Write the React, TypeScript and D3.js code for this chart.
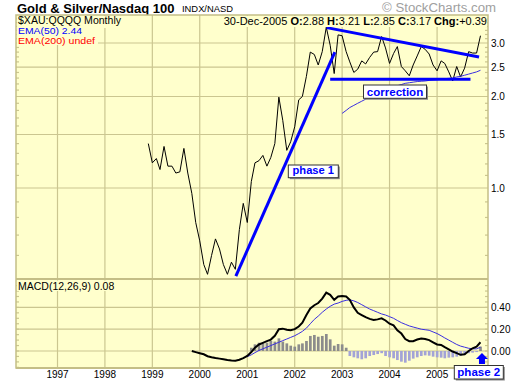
import React from 'react';
import * as d3 from 'd3';

// ---------------- data ----------------
const PRICE_START = '1998-12';
const priceValues = [
  1.40, 1.21, 1.25, 1.15, 1.37, 1.18, 1.18, 1.12, 1.13, 1.35,
  1.12, 0.96, 0.77, 0.67, 0.56, 0.52, 0.60, 0.68, 0.63, 0.56,
  0.52, 0.57, 0.54, 0.73, 0.89, 0.77, 1.05, 1.21, 1.23, 1.28,
  1.18, 1.26, 1.40, 1.99, 1.67, 1.33, 1.42, 1.59, 1.95, 2.00,
  2.33, 2.80, 2.75, 2.54, 2.81, 3.38, 2.95, 2.38, 3.19, 3.17,
  2.81, 2.60, 2.40, 2.46, 2.62, 2.56, 2.69, 2.80, 2.81, 3.15,
  2.89, 2.57, 2.77, 2.92, 2.51, 2.43, 2.34, 2.54, 2.72, 2.92,
  2.86, 2.76, 2.54, 2.43, 2.62, 2.57, 2.41, 2.25, 2.51, 2.32,
  2.48, 2.81, 2.78, 2.78, 3.17,
];

const EMA50_START = '2003-01';
const ema50Values = [
  1.76, 1.80, 1.84, 1.87, 1.90, 1.93, 1.96, 1.99, 2.02, 2.05,
  2.08, 2.11, 2.13, 2.15, 2.17, 2.19, 2.21, 2.22, 2.23, 2.24,
  2.245, 2.25, 2.26, 2.265, 2.27, 2.28, 2.29, 2.295, 2.30, 2.32,
  2.33, 2.35, 2.37, 2.39, 2.41, 2.44,
];

const MACD_START = '1999-11';
const macdValues = [
  0.00, -0.01, -0.02, -0.03, -0.048, -0.058, -0.065, -0.07, -0.075, -0.082,
  -0.087, -0.09, -0.08, -0.065, -0.045, -0.01, 0.03, 0.06, 0.075, 0.09,
  0.105, 0.14, 0.20, 0.205, 0.195, 0.19, 0.20, 0.225, 0.26, 0.33,
  0.39, 0.42, 0.44, 0.48, 0.535, 0.515, 0.47, 0.50, 0.505, 0.50,
  0.47, 0.40, 0.35, 0.33, 0.31, 0.295, 0.285, 0.29, 0.30, 0.28,
  0.25, 0.235, 0.19, 0.16, 0.11, 0.09, 0.09, 0.105, 0.115, 0.11,
  0.10, 0.08, 0.06, 0.055, 0.035, 0.015, -0.005, -0.02, -0.035, -0.03,
  0.00, 0.025, 0.04, 0.08,
];

const SIGNAL_START = '2001-01';
const signalValues = [
  -0.052, -0.035, -0.015, 0.005, 0.02, 0.035, 0.05, 0.065, 0.08, 0.095,
  0.11, 0.125, 0.14, 0.16, 0.18, 0.21, 0.25, 0.29, 0.32, 0.355,
  0.385, 0.41, 0.43, 0.44, 0.455, 0.465, 0.47, 0.46, 0.445, 0.425,
  0.405, 0.385, 0.37, 0.355, 0.34, 0.33, 0.315, 0.30, 0.28, 0.26,
  0.245, 0.23, 0.22, 0.21, 0.20, 0.195, 0.19, 0.175, 0.16, 0.14,
  0.12, 0.10, 0.08, 0.06, 0.045, 0.035, 0.025, 0.02, 0.02, 0.035,
];

const HIST_START = '2001-02';
const histValues = [
  0.03, 0.061, 0.076, 0.07, 0.076, 0.092, 0.086, 0.116, 0.086, 0.07,
  0.049, 0.04, 0.061, 0.07, 0.092, 0.138, 0.147, 0.131, 0.138, 0.156,
  0.107, 0.049, 0.064, 0.061, 0.03, -0.046, -0.058, -0.067, -0.076, -0.067,
  -0.046, -0.037, -0.028, -0.02, -0.046, -0.058, -0.067, -0.083, -0.098, -0.107,
  -0.089, -0.07, -0.058, -0.046, -0.04, -0.043, -0.052, -0.058, -0.061, -0.067,
  -0.061, -0.058, -0.052, -0.043, -0.034, -0.02, -0.015, -0.01, 0.04,
];

const yearTicks = [1997, 1998, 1999, 2000, 2001, 2002, 2003, 2004, 2005];
const priceTicks = [1.0, 1.5, 2.0, 2.5, 3.0];
const macdTicks = [0.0, 0.2, 0.4];

// annotation trend lines (date, value)
const phase1Line: [string, number][] = [['2000-10-05', 0.513], ['2002-11-06', 2.8]];
const topLine: [string, number][] = [['2002-09-04', 3.37], ['2005-11-20', 2.7]];
const supportLine: [string, number][] = [['2002-10-01', 2.28], ['2005-09-15', 2.28]];

// ---------------- helpers ----------------
const parseMonth = d3.timeParse('%Y-%m');
const parseDay = d3.timeParse('%Y-%m-%d');
function series(start: string, values: number[]) {
  const s = parseMonth(start) as Date;
  return values.map((v, i) => ({ date: d3.timeMonth.offset(s, i), v }));
}

const FONT = '"Liberation Sans", Arial, Helvetica, sans-serif';
const BG = '#ffffcc';
const GRID = '#cbc690';
const BORDER = '#c4be86';

export default function App() {
  const L = 16, R = 488, T = 15, MID = 279, B = 368;

  const x = d3.scaleTime()
    .domain([new Date(1997, 0, 1), new Date(2006, 0, 1)])
    .range([57.5, 484.5]);
  const yP = d3.scaleLog().domain([1, 3]).range([188, 43]);
  const yM = d3.scaleLinear().domain([0, 0.4]).range([351, 307.4]);

  const price = series(PRICE_START, priceValues);
  const ema = series(EMA50_START, ema50Values);
  const macd = series(MACD_START, macdValues);
  const signal = series(SIGNAL_START, signalValues);
  const hist = series(HIST_START, histValues);

  const lineP = d3.line<{ date: Date; v: number }>().x(d => x(d.date)).y(d => yP(d.v));
  const lineM = d3.line<{ date: Date; v: number }>().x(d => x(d.date)).y(d => yM(d.v));
  const annot = (pts: [string, number][]) =>
    d3.line<[string, number]>().x(d => x(parseDay(d[0]) as Date)).y(d => yP(d[1]))(pts) as string;

  const minorP = d3.range(6, 37).map(i => i / 10).filter(v => !priceTicks.some(t => Math.abs(t - v) < 1e-6));
  const minorM = d3.range(-3, 13).map(i => i * 0.05);

  const lastDate = price[price.length - 1].date;
  const ax = x(lastDate);

  const box = (cx: number, top: number, w: number, h: number, text: string, tl: number, base: number) => (
    <g>
      <rect x={cx - w / 2 + 1.5} y={top + 1.5} width={w} height={h} fill="#8a8a8a" />
      <rect x={cx - w / 2} y={top} width={w} height={h} fill="#ffffff" stroke="#333" strokeWidth={1} />
      <text x={cx} y={base} textAnchor="middle" fontFamily={FONT} fontWeight="bold" fontSize={11.5}
        fill="#0000ff" textLength={tl} lengthAdjust="spacingAndGlyphs">{text}</text>
    </g>
  );

  return (
    <svg width={520} height={384} style={{ position: 'absolute', left: 0, top: 0, background: '#fff' }}
      fontFamily={FONT}>
      <defs>
        <clipPath id="cpMain"><rect x={L} y={T} width={R - L} height={MID - T} /></clipPath>
        <clipPath id="cpMacd"><rect x={L} y={MID} width={R - L} height={B - MID} /></clipPath>
      </defs>

      {/* title */}
      <text x={17} y={13} fontSize={13} fontWeight="bold" fill="#000">Gold &amp; Silver/Nasdaq 100</text>
      <text x={182} y={12} fontSize={9} fill="#000" textLength={51} lengthAdjust="spacingAndGlyphs">INDX/NASD</text>
      <text x={382} y={12} fontSize={12} fill="#a0a0a0" textLength={114} lengthAdjust="spacingAndGlyphs">© StockCharts.com</text>

      {/* panels */}
      <rect x={L} y={T} width={R - L} height={MID - T} fill={BG} />
      <rect x={L} y={MID} width={R - L} height={B - MID} fill={BG} />

      {/* grid */}
      <g stroke={GRID} strokeWidth={1.2}>
        {yearTicks.map(yr => {
          const gx = x(new Date(yr, 0, 1));
          return <g key={yr}>
            <line x1={gx} x2={gx} y1={T} y2={MID} />
            <line x1={gx} x2={gx} y1={MID} y2={B} />
          </g>;
        })}
        {priceTicks.map(t => <line key={t} x1={L} x2={R} y1={yP(t)} y2={yP(t)} />)}
        {macdTicks.map(t => <line key={t} x1={L} x2={R} y1={yM(t)} y2={yM(t)} />)}
        {minorP.map(v => <g key={v}>
          <line x1={L} x2={L + 3} y1={yP(v)} y2={yP(v)} />
          <line x1={R - 3} x2={R} y1={yP(v)} y2={yP(v)} />
        </g>)}
        {minorM.map(v => <g key={v}>
          <line x1={L} x2={L + 3} y1={yM(v)} y2={yM(v)} />
          <line x1={R - 3} x2={R} y1={yM(v)} y2={yM(v)} />
        </g>)}
      </g>

      {/* main series */}
      <g clipPath="url(#cpMain)">
        <path d={lineP(price) as string} fill="none" stroke="#000" strokeWidth={1} />
        <path d={lineP(ema) as string} fill="none" stroke="#3a2ee0" strokeWidth={1} />
        <path d={annot(phase1Line)} fill="none" stroke="#0000ff" strokeWidth={3} />
        <path d={annot(topLine)} fill="none" stroke="#0000ff" strokeWidth={3} />
        <path d={annot(supportLine)} fill="none" stroke="#0000ff" strokeWidth={3} />
      </g>

      {/* MACD */}
      <g clipPath="url(#cpMacd)">
        {hist.map((d, i) => {
          const bx = x(d.date);
          const y0 = yM(0), y1 = yM(d.v);
          return <rect key={i} x={bx - 1.3} width={2.7} y={Math.min(y0, y1)} height={Math.abs(y1 - y0)}
            fill={d.v >= 0 ? '#8c8c8c' : '#a3a3d6'} />;
        })}
        <path d={lineM(signal) as string} fill="none" stroke="#3a2ee0" strokeWidth={1} />
        <path d={lineM(macd) as string} fill="none" stroke="#000" strokeWidth={2} />
      </g>

      {/* panel borders */}
      <rect x={L} y={T} width={R - L} height={B - T} fill="none" stroke={BORDER} strokeWidth={1.5} />
      <line x1={L} x2={R} y1={MID} y2={MID} stroke={BORDER} strokeWidth={2} />
      <line x1={L} x2={R} y1={B} y2={B} stroke={BORDER} strokeWidth={2} />

      {/* legends main */}
      <rect x={L + 1} y={T + 1} width={106} height={12} fill={BG} />
      <rect x={L + 1} y={T + 13} width={68} height={9} fill={BG} />
      <rect x={L + 1} y={T + 22} width={81} height={8} fill={BG} />
      <text x={18} y={24} fontSize={10} fill="#000" textLength={103} lengthAdjust="spacingAndGlyphs">$XAU:QQQQ Monthly</text>
      <text x={18} y={34.3} fontSize={9} fill="#0000ff" textLength={64} lengthAdjust="spacingAndGlyphs">EMA(50) 2.44</text>
      <text x={18} y={44.4} fontSize={9} fill="#ff0000" textLength={77} lengthAdjust="spacingAndGlyphs">EMA(200) undef</text>

      <rect x={221} y={T + 1} width={266} height={11} fill={BG} />
      <text x={487} y={25} fontSize={11} textAnchor="end" fill="#000">
        <tspan>30-Dec-2005 </tspan>
        <tspan fontWeight="bold">O:</tspan><tspan>2.88 </tspan>
        <tspan fontWeight="bold">H:</tspan><tspan>3.21 </tspan>
        <tspan fontWeight="bold">L:</tspan><tspan>2.85 </tspan>
        <tspan fontWeight="bold">C:</tspan><tspan>3.17 </tspan>
        <tspan fontWeight="bold">Chg:</tspan><tspan>+0.39</tspan>
      </text>

      {/* legend macd */}
      <rect x={L + 1} y={MID + 1.5} width={101} height={10.5} fill={BG} />
      <text x={18} y={289.5} fontSize={10.5} fill="#000">MACD(12,26,9) 0.08</text>

      {/* right axis labels */}
      {priceTicks.map(t => (
        <text key={t} x={491} y={yP(t) + 3.6} fontSize={10} fill="#000">{t.toFixed(1)}</text>
      ))}
      {macdTicks.map(t => (
        <text key={t} x={491} y={yM(t) + 3.6} fontSize={10} fill="#000">{t.toFixed(2)}</text>
      ))}

      {/* year labels */}
      {yearTicks.map(yr => (
        <text key={yr} x={x(new Date(yr, 0, 1))} y={378} fontSize={10} textAnchor="middle" fill="#000">{yr}</text>
      ))}

      {/* annotation boxes */}
      {box(313.3, 165, 50, 12.7, 'phase 1', 41.5, 174)}
      {box(395, 85, 63, 13.3, 'correction', 56.5, 95.5)}
      {box(478.8, 365.5, 49, 13.5, 'phase 2', 43, 375.5)}

      {/* phase 2 arrow */}
      <path d={`M${ax + 1.5},353 L${ax + 7.5},359 L${ax + 4.5},359 L${ax + 4.5},364 L${ax - 1.5},364 L${ax - 1.5},359 L${ax - 4.5},359 Z`}
        fill="#0000ff" />
    </svg>
  );
}
